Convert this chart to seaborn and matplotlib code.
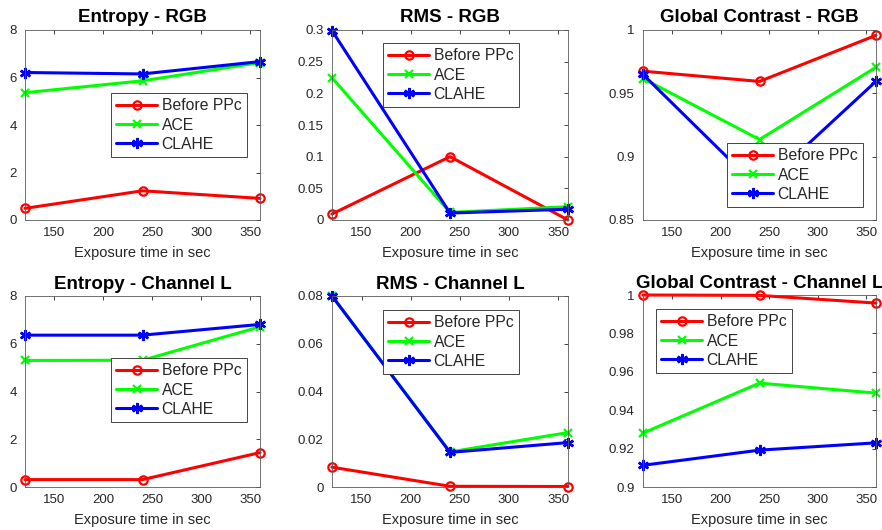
import numpy as np
import pandas as pd
import matplotlib
matplotlib.use('Agg')
import matplotlib.pyplot as plt
import seaborn as sns
from matplotlib.ticker import FuncFormatter

# Data
exposure = [120, 240, 360]
methods = ['Before PPc', 'ACE', 'CLAHE']

entropy_rgb_before = [0.49, 1.23, 0.91]
entropy_rgb_ace = [5.36, 5.86, 6.63]
entropy_rgb_clahe = [6.21, 6.15, 6.67]

rms_rgb_before = [0.0095, 0.100, 0.0]
rms_rgb_ace = [0.2245, 0.012, 0.021]
rms_rgb_clahe = [0.299, 0.011, 0.017]

gc_rgb_before = [0.9675, 0.9594, 0.9958]
gc_rgb_ace = [0.9617, 0.9135, 0.9706]
gc_rgb_clahe = [0.9649, 0.8745, 0.9595]

entropy_l_before = [0.31, 0.31, 1.44]
entropy_l_ace = [5.30, 5.31, 6.71]
entropy_l_clahe = [6.36, 6.36, 6.81]

rms_l_before = [0.0083, 0.0003, 0.0002]
rms_l_ace = [0.080, 0.0147, 0.0228]
rms_l_clahe = [0.080, 0.0145, 0.0186]

gc_l_before = [1.0, 0.9998, 0.9958]
gc_l_ace = [0.9281, 0.9541, 0.9489]
gc_l_clahe = [0.9113, 0.9192, 0.9230]

titles = ['Entropy - RGB', 'RMS - RGB', 'Global Contrast - RGB',
          'Entropy - Channel L', 'RMS - Channel L', 'Global Contrast - Channel L']

W, H = 882, 530

sns.set_style('white')
plt.rcParams['font.family'] = ['Liberation Sans', 'DejaVu Sans']

fig = plt.figure(figsize=(W / 100, H / 100), dpi=100)

# axes boxes in pixels: (left, top, right, bottom)
boxes = [(25, 30, 260, 220), (332, 30, 568, 220), (643, 30, 876, 220),
         (25, 296, 260, 487), (332, 296, 568, 487), (643, 295, 876, 487)]
# legend upper-left corners in pixels
leg_pos = [(111, 93), (383, 43), (727, 143), (111, 358), (383, 310), (656, 309)]

panels = [
    (entropy_rgb_before, entropy_rgb_ace, entropy_rgb_clahe, (0, 8), np.arange(0, 8.1, 2)),
    (rms_rgb_before, rms_rgb_ace, rms_rgb_clahe, (0, 0.3), np.arange(0, 0.301, 0.05)),
    (gc_rgb_before, gc_rgb_ace, gc_rgb_clahe, (0.85, 1.0), np.arange(0.85, 1.001, 0.05)),
    (entropy_l_before, entropy_l_ace, entropy_l_clahe, (0, 8), np.arange(0, 8.1, 2)),
    (rms_l_before, rms_l_ace, rms_l_clahe, (0, 0.08), np.arange(0, 0.081, 0.02)),
    (gc_l_before, gc_l_ace, gc_l_clahe, (0.9, 1.0), np.arange(0.9, 1.001, 0.02)),
]

styles = [
    dict(color='#ff0000', marker='o', markerfacecolor='none', markeredgecolor='#ff0000',
         markersize=6, markeredgewidth=1.6),
    dict(color='#00ff00', marker='x', markeredgecolor='#00ff00', markersize=6,
         markeredgewidth=1.6),
    dict(color='#0000ff', marker=(6, 2, 0), markersize=8, markeredgewidth=1.8,
         markeredgecolor='#0000ff'),
]

gray = '#262626'

for i, (box, panel) in enumerate(zip(boxes, panels)):
    l, t, r, b = box
    ax = fig.add_axes([l / W, 1 - b / H, (r - l) / W, (b - t) / H])
    for vals, name, st in zip(panel[:3], methods, styles):
        sns.lineplot(x=exposure, y=vals, ax=ax, label=name, linewidth=2.2,
                     clip_on=False, **st)
    ax.set_xlim(120, 360)
    ax.set_xticks([150, 200, 250, 300, 350])
    ax.set_ylim(*panel[3])
    ax.set_yticks(panel[4])
    ax.yaxis.set_major_formatter(FuncFormatter(lambda v, _: f'{round(v, 4):g}'))
    ax.tick_params(direction='in', length=3, width=0.6, colors=gray,
                   labelsize=9.5, top=True, right=True)
    ax.tick_params(axis='y', pad=6)
    ax.tick_params(axis='x', pad=5)
    for sp in ax.spines.values():
        sp.set_color('#5a5a5a')
        sp.set_linewidth(0.6)
    ax.set_xlabel('Exposure time in sec', fontsize=10.5, color=gray, labelpad=5)
    ax.set_title(titles[i], fontsize=13.5, fontweight='bold', color='black',
                 pad=6 if i < 3 else 5)
    lx, ly = leg_pos[i]
    leg = ax.legend(loc='upper left', bbox_to_anchor=(lx / W, 1 - ly / H),
                    bbox_transform=fig.transFigure, borderaxespad=0,
                    fontsize=11.3, fancybox=False, framealpha=1, edgecolor=gray,
                    handlelength=2.6, handletextpad=0.3, labelspacing=0.28,
                    borderpad=0.33)
    leg.get_frame().set_linewidth(0.6)

fig.savefig('out.png', dpi=100)
